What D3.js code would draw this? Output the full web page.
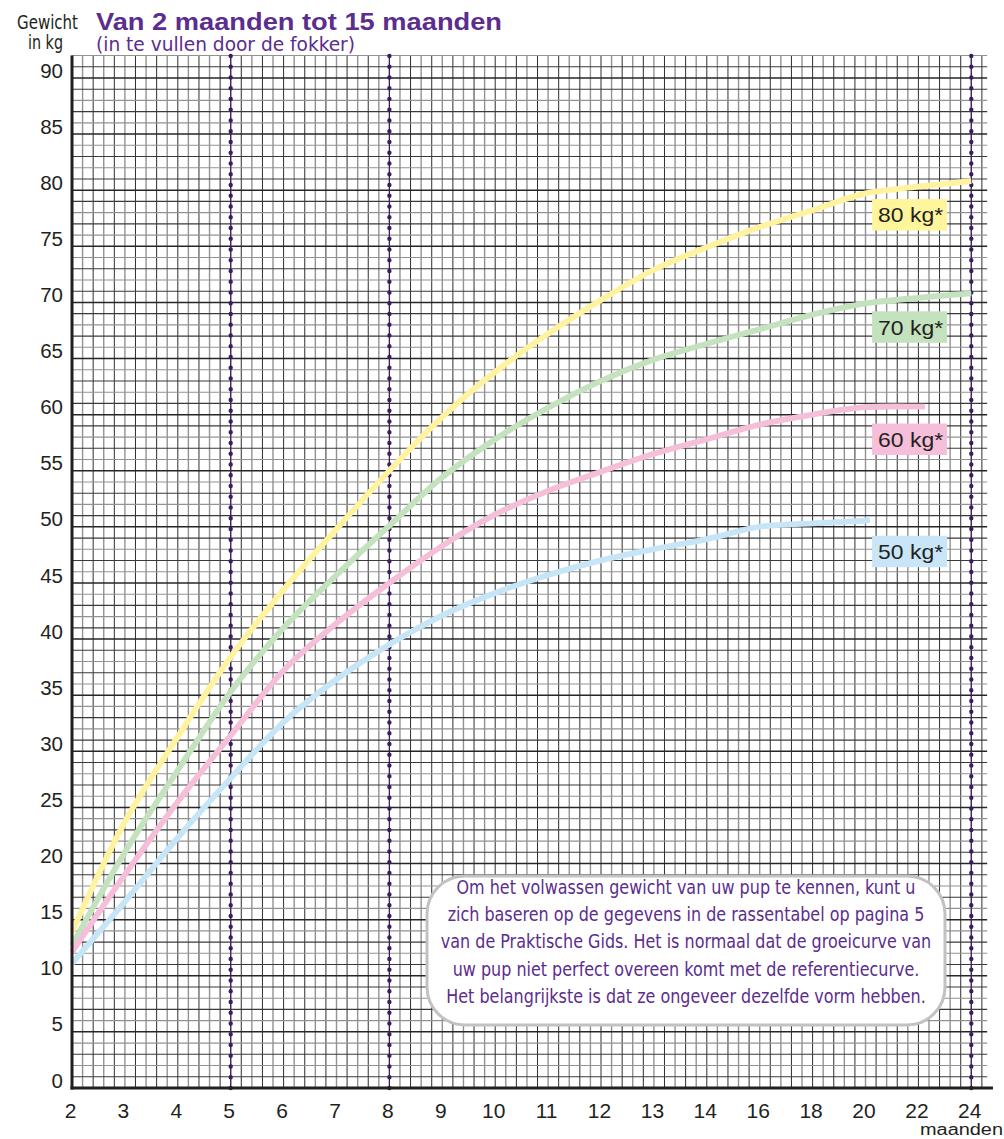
<!DOCTYPE html>
<html><head><meta charset="utf-8">
<script src="https://cdn.jsdelivr.net/npm/d3@7"></script>
<style>body{margin:0;background:#fff;} svg{display:block;}</style>
</head><body>
<svg id="c" width="1004" height="1139"></svg>
<script>
// ---------- data ----------
const monthTicks = [2,3,4,5,6,7,8,9,10,11,12,13,14,16,18,20,22,24];
const weightTicks = [0,5,10,15,20,25,30,35,40,45,50,55,60,65,70,75,80,85,90];
const markerMonths = [5, 8, 24];

const months80 = [2,3,4,5,6,7,8,9,10,11,12,13,14,16,18,20,22,24];
const values80 = [13.2,23.0,30.6,37.7,43.7,49.1,54.3,59.1,63.1,66.5,69.5,72.2,74.2,76.0,77.5,79.0,79.6,80.1];
const months70 = [2,3,4,5,6,7,8,9,10,11,12,13,14,16,18,20,22,24];
const values70 = [12.0,20.3,27.6,34.6,40.3,45.0,49.4,53.7,57.1,59.9,62.3,64.2,65.6,66.9,68.2,69.2,69.7,70.1];
const months60 = [2,3,4,5,6,7,8,9,10,11,12,13,14,16,18,20,22,22.25];
const values60 = [11.4,18.3,24.8,30.7,36.5,40.7,44.3,47.6,50.4,52.5,54.2,55.8,57.1,58.4,59.3,59.95,60.0,60.0];
const months50 = [2,3,4,5,6,7,8,9,10,11,12,13,14,16,18,20,20.17];
const values50 = [10.4,15.9,21.6,26.9,31.9,35.7,38.8,41.4,43.4,45.0,46.3,47.3,48.2,49.3,49.6,49.85,49.9];

const seriesNames = ["80 kg*","70 kg*","60 kg*","50 kg*"];
const seriesTargets = [80,70,60,50];
const lineColors = ["#fff3a0","#c3e2bd","#f5bfd9","#c6e5f7"];
const boxColors  = ["#fff59c","#c3e2bd","#f5bfd9","#c8e6f8"];

const title = "Van 2 maanden tot 15 maanden";
const subtitle = "(in te vullen door de fokker)";
const yTitle = ["Gewicht","in kg"];
const xTitle = "maanden";
const note = [
 "Om het volwassen gewicht van uw pup te kennen, kunt u",
 "zich baseren op de gegevens in de rassentabel  op pagina 5",
 "van de Praktische Gids. Het is normaal dat de groeicurve van",
 "uw pup niet perfect overeen komt met de referentiecurve.",
 "Het belangrijkste is dat ze ongeveer dezelfde vorm hebben."
];

// ---------- scales ----------
const U = 52.9;
const x = d3.scaleLinear().domain([2,14,24]).range([72, 72+12*U, 72+17*U]);
const xi = d3.scaleLinear().domain([0,17]).range([x(2), x(24)]); // index scale for graph paper
const y = d3.scaleLinear().domain([0,90]).range([1080,70]);
const gridShift = -0.71;

const svg = d3.select("#c");
const narrow = "'Liberation Sans Narrow','DejaVu Sans Condensed','Liberation Sans',Arial,sans-serif";
const sans = "'Liberation Sans',Arial,Helvetica,sans-serif";

// ---------- graph paper ----------
const gTop = y(92 + gridShift), gBot = y(0 + gridShift);
const grid = svg.append("g");
const vIdx = d3.range(0, 87).map(i => i/5);
grid.selectAll("line.v").data(vIdx).enter().append("line")
  .attr("x1", d => xi(d)).attr("x2", d => xi(d))
  .attr("y1", gTop).attr("y2", gBot)
  .attr("stroke", (d,i) => i%2 ? "#929292" : "#2e2e2e")
  .attr("stroke-width", (d,i) => i%2 ? 1.4 : 1.0);
const hIdx = d3.range(1, 93);
grid.selectAll("line.h").data(hIdx).enter().append("line")
  .attr("x1", x(2)).attr("x2", xi(17.3))
  .attr("y1", d => y(d+gridShift)).attr("y2", d => y(d+gridShift))
  .attr("stroke", d => d%5===0 ? "#262626" : (d%2 ? "#3a3a3a" : "#929292"))
  .attr("stroke-width", d => d%5===0 ? 1.5 : 1.1);

// dotted month markers
const mk = svg.append("g");
markerMonths.forEach(m => {
  mk.append("line").attr("x1", x(m)).attr("x2", x(m)).attr("y1", gTop).attr("y2", gBot)
    .attr("stroke", "#3b1c5f").attr("stroke-width", 1.2);
  mk.append("line").attr("x1", x(m)).attr("x2", x(m)).attr("y1", gBot).attr("y2", gTop)
    .attr("stroke", "#3b1c5f").attr("stroke-width", 4.4)
    .attr("stroke-linecap", "round").attr("stroke-dasharray", "0 10.75");
});

// ---------- curves ----------
const seriesMonths = [months80, months70, months60, months50];
const seriesValues = [values80, values70, values60, values50];
const line = d3.line().x(d => x(d[0])).y(d => y(d[1])).curve(d3.curveCatmullRom.alpha(0.5));
seriesMonths.forEach((ms, k) => {
  const pts = ms.map((m,i) => [m, seriesValues[k][i]]);
  svg.append("path").attr("d", line(pts)).attr("fill","none")
    .attr("stroke", lineColors[k]).attr("stroke-width", 5.8).attr("stroke-linecap","butt");
});

// label boxes
seriesNames.forEach((name, k) => {
  const cy = y(seriesTargets[k] - 2.9);
  const bx = x(20.25);
  svg.append("rect").attr("x", bx).attr("y", cy - 15.7).attr("width", 75).attr("height", 31.5)
    .attr("fill", boxColors[k]);
  svg.append("text").attr("x", bx + 6).attr("y", cy + 7.6)
    .attr("font-family", sans).attr("font-size", 21).attr("fill", "#231f20")
    .attr("textLength", 65).attr("lengthAdjust","spacingAndGlyphs").text(name);
});

// ---------- note box ----------
svg.append("rect").attr("x", 427).attr("y", 876).attr("width", 518).attr("height", 149)
  .attr("rx", 38).attr("ry", 38).attr("fill", "#fff").attr("stroke", "#c2c2c2").attr("stroke-width", 3);
const noteG = svg.append("g");
const noteTexts = noteG.selectAll("text").data(note).enter().append("text")
  .attr("x", 686).attr("y", (d,i) => 894 + i*27.2)
  .attr("text-anchor","middle").attr("font-family", narrow).attr("font-size", 19.5)
  .attr("fill", "#5b2d8e").text(d => d);
const w0 = noteTexts.nodes()[0].getComputedTextLength();
const kf = 459 / w0;
noteTexts.each(function(){ const w = this.getComputedTextLength(); d3.select(this).attr("textLength", w*kf).attr("lengthAdjust","spacingAndGlyphs"); });

// ---------- axes ----------
svg.append("line").attr("x1", x(2)).attr("x2", x(2)).attr("y1", gTop).attr("y2", gBot+1.5)
  .attr("stroke", "#231f20").attr("stroke-width", 3);
svg.append("line").attr("x1", x(2)-1.5).attr("x2", 993).attr("y1", gBot).attr("y2", gBot)
  .attr("stroke", "#231f20").attr("stroke-width", 3);

svg.append("g").selectAll("text").data(weightTicks).enter().append("text")
  .attr("x", 63).attr("y", d => y(d) + 7.5).attr("text-anchor","end")
  .attr("font-family", sans).attr("font-size", 20.5).attr("fill","#231f20").text(d => d);

svg.append("g").selectAll("text").data(monthTicks).enter().append("text")
  .attr("x", d => x(d) - 1.5).attr("y", 1118).attr("text-anchor","middle")
  .attr("font-family", sans).attr("font-size", 21).attr("fill","#231f20").text(d => d);

svg.append("text").attr("x", 1003).attr("y", 1135).attr("text-anchor","end")
  .attr("font-family", sans).attr("font-size", 16).attr("fill","#231f20")
  .attr("textLength", 83).attr("lengthAdjust","spacingAndGlyphs").text(xTitle);

// ---------- titles ----------
svg.append("text").attr("x", 96).attr("y", 30).attr("font-family", sans).attr("font-weight","bold")
  .attr("font-size", 24).attr("fill", "#5b2d8e")
  .attr("textLength", 406).attr("lengthAdjust","spacingAndGlyphs").text(title);
svg.append("text").attr("x", 96).attr("y", 51).attr("font-family", narrow)
  .attr("font-size", 19).attr("fill", "#5b2d8e")
  .attr("textLength", 259).attr("lengthAdjust","spacingAndGlyphs").text(subtitle);
svg.append("text").attr("x", 78).attr("y", 29).attr("text-anchor","end").attr("font-family", narrow)
  .attr("font-size", 19).attr("fill", "#231f20")
  .attr("textLength", 61).attr("lengthAdjust","spacingAndGlyphs").text(yTitle[0]);
svg.append("text").attr("x", 63).attr("y", 49).attr("text-anchor","end").attr("font-family", narrow)
  .attr("font-size", 19).attr("fill", "#231f20")
  .attr("textLength", 35).attr("lengthAdjust","spacingAndGlyphs").text(yTitle[1]);
</script>
</body></html>
